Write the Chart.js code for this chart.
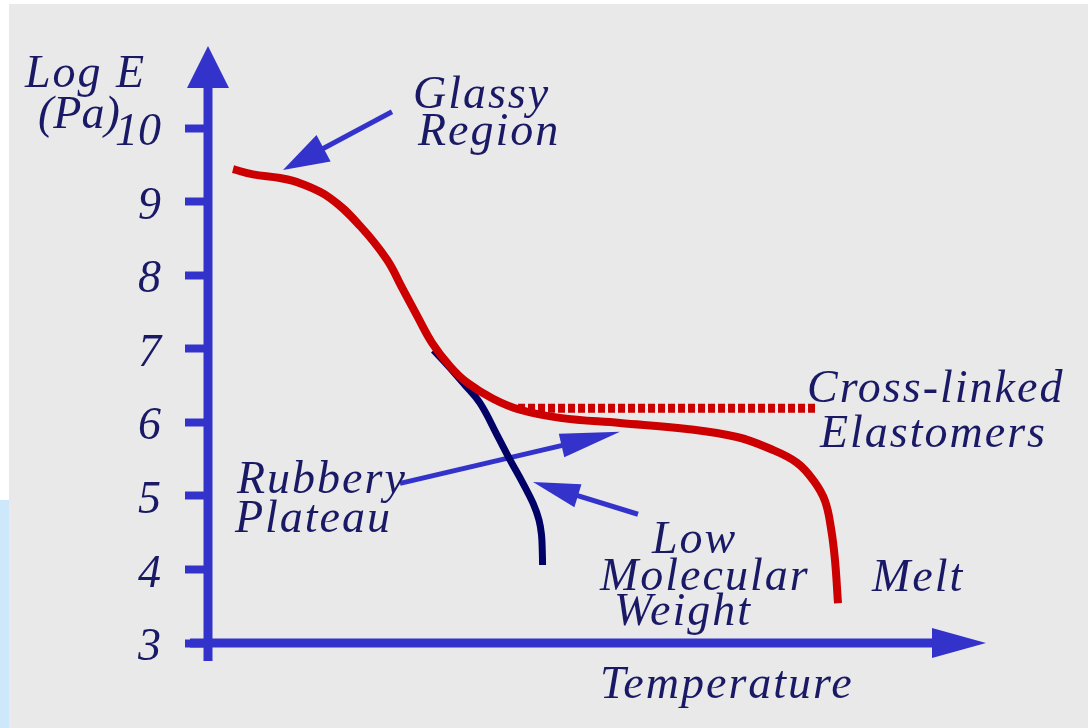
<!DOCTYPE html>
<html>
<head>
<meta charset="utf-8">
<title>Log E vs Temperature</title>
<script src="https://cdn.jsdelivr.net/npm/chart.js@4.4.1/dist/chart.umd.min.js"></script>
<style>
  html, body { margin: 0; padding: 0; background: #ffffff; }
  #chart { display: block; }
</style>
</head>
<body>
<canvas id="chart" width="1088" height="728"></canvas>
<script>
'use strict';

// y axis ticks (log modulus, Pa)
var logETicks = [3, 4, 5, 6, 7, 8, 9, 10];

// typical amorphous polymer: glassy -> transition -> rubbery plateau -> melt
var mainTemp = [3.22, 5.79, 9.27, 11.84, 15.70, 19.56, 23.04, 24.97, 26.90, 28.83, 31.15, 33.33,
                36.68, 40.15, 45.30, 53.02, 61.65, 68.08, 72.33, 75.80, 77.99, 79.41, 80.18, 80.69, 81.08];
var mainLogE = [9.44, 9.37, 9.32, 9.25, 9.05, 8.67, 8.21, 7.83, 7.45, 7.08, 6.76, 6.54,
                6.32, 6.17, 6.06, 5.99, 5.91, 5.80, 5.64, 5.45, 5.20, 4.93, 4.56, 4.13, 3.54];

// low molecular weight branch
var lowMwTemp = [29.03, 30.89, 32.95, 35.01, 37.19, 38.87, 40.54, 41.83, 42.60, 42.92, 43.02, 43.06];
var lowMwLogE = [6.98, 6.77, 6.52, 6.26, 5.83, 5.49, 5.17, 4.90, 4.67, 4.47, 4.26, 4.06];

// cross-linked elastomer plateau
var crossTemp = [39.90, 78.38];
var crossLogE = [6.19, 6.19];

var INK = '#191966';
var AXIS_BLUE = '#3333cc';
var SERIF = "'Liberation Serif', 'Times New Roman', serif";
var TEXT_FONT = 'italic 46px ' + SERIF;

// labels placed in data units (temperature, log E), left/baseline anchored
var notes = [
    { text: 'Glassy',       t: 26.38, e: 10.27 },
    { text: 'Region',       t: 27.03, e: 9.77 },
    { text: 'Cross-linked', t: 77.09, e: 6.28 },
    { text: 'Elastomers',   t: 78.76, e: 5.66 },
    { text: 'Rubbery',      t: 3.73,  e: 5.04 },
    { text: 'Plateau',      t: 3.47,  e: 4.51 },
    { text: 'Low',          t: 57.14, e: 4.22 },
    { text: 'Molecular',    t: 50.45, e: 3.72 },
    { text: 'Weight',       t: 52.25, e: 3.24 },
    { text: 'Melt',         t: 85.45, e: 3.71 }
];

// pointer arrows, tail -> tip, in data units
var pointers = [
    { from: [23.68, 10.22], to: [9.65, 9.43],  head: 46, half: 15 },
    { from: [24.71, 5.17],  to: [53.02, 5.87], head: 60, half: 12 },
    { from: [55.34, 4.75],  to: [41.83, 5.19], head: 47, half: 12 }
];

function toPoints(xs, ys) {
    return xs.map(function(x, i) { return { x: x, y: ys[i] }; });
}

function drawArrow(ctx, x1, y1, x2, y2, width, headLen, headHalf) {
    var dx = x2 - x1, dy = y2 - y1;
    var len = Math.sqrt(dx * dx + dy * dy);
    var ux = dx / len, uy = dy / len;
    var bx = x2 - ux * headLen, by = y2 - uy * headLen;
    ctx.strokeStyle = AXIS_BLUE;
    ctx.fillStyle = AXIS_BLUE;
    ctx.lineWidth = width;
    ctx.lineCap = 'butt';
    ctx.beginPath();
    ctx.moveTo(x1, y1);
    ctx.lineTo(bx + ux * 2, by + uy * 2);
    ctx.stroke();
    ctx.beginPath();
    ctx.moveTo(x2, y2);
    ctx.lineTo(bx - uy * headHalf, by + ux * headHalf);
    ctx.lineTo(bx + uy * headHalf, by - ux * headHalf);
    ctx.closePath();
    ctx.fill();
}

var backdrop = {
    id: 'backdrop',
    beforeDraw: function(chart) {
        var ctx = chart.ctx;
        ctx.save();
        ctx.fillStyle = '#ffffff';
        ctx.fillRect(0, 0, chart.width, chart.height);
        ctx.fillStyle = '#e9e9e9';
        ctx.fillRect(9, 4, chart.width - 9, chart.height - 4);
        ctx.fillStyle = '#cde8fa';
        ctx.fillRect(0, 500, 9, chart.height - 500);
        ctx.restore();
    }
};

var axesAndPointers = {
    id: 'axesAndPointers',
    beforeDatasetsDraw: function(chart) {
        var ctx = chart.ctx;
        var xs = chart.scales.x, ys = chart.scales.y;
        var area = chart.chartArea;
        var x0 = area.left;
        var yBase = ys.getPixelForValue(3);
        ctx.save();
        // vertical axis with arrow
        drawArrow(ctx, x0, yBase + 18, x0, 46, 9, 42, 21);
        // horizontal axis with arrow
        drawArrow(ctx, x0 - 18, yBase, area.right + 1, yBase, 9, 54, 15);
        pointers.forEach(function(p) {
            drawArrow(ctx,
                xs.getPixelForValue(p.from[0]), ys.getPixelForValue(p.from[1]),
                xs.getPixelForValue(p.to[0]), ys.getPixelForValue(p.to[1]),
                5, p.head, p.half);
        });
        ctx.restore();
    },
    afterDraw: function(chart) {
        var ctx = chart.ctx;
        var xs = chart.scales.x, ys = chart.scales.y;
        ctx.save();
        ctx.font = TEXT_FONT;
        ctx.fillStyle = INK;
        ctx.textAlign = 'left';
        ctx.textBaseline = 'alphabetic';
        ctx.letterSpacing = '2px';
        notes.forEach(function(n) {
            ctx.fillText(n.text, xs.getPixelForValue(n.t), ys.getPixelForValue(n.e));
        });
        // axis titles
        ctx.fillText('Log E', 25, 87);
        ctx.fillText('Temperature', 600, 698);
        ctx.letterSpacing = '0px';
        ctx.fillText('(Pa)', 38, 128);
        ctx.restore();
    }
};

var ctx = document.getElementById('chart').getContext('2d');
new Chart(ctx, {
    type: 'scatter',
    data: {
        datasets: [
            {
                label: 'Amorphous polymer',
                data: toPoints(mainTemp, mainLogE),
                showLine: true,
                borderColor: '#cc0000',
                borderWidth: 8,
                pointRadius: 0,
                tension: 0.4,
                order: 0
            },
            {
                label: 'Low molecular weight',
                data: toPoints(lowMwTemp, lowMwLogE),
                showLine: true,
                borderColor: '#000066',
                borderWidth: 7,
                pointRadius: 0,
                tension: 0.4,
                order: 1
            },
            {
                label: 'Cross-linked elastomers',
                data: toPoints(crossTemp, crossLogE),
                showLine: true,
                borderColor: '#cc0000',
                borderWidth: 9,
                borderDash: [7, 3],
                borderCapStyle: 'butt',
                pointRadius: 0,
                order: 2
            }
        ]
    },
    options: {
        responsive: false,
        animation: false,
        layout: { padding: { left: 58, top: 128, right: 103, bottom: 85 } },
        scales: {
            x: {
                type: 'linear',
                min: 0,
                max: 100,
                display: false
            },
            y: {
                type: 'linear',
                min: 3,
                max: 10,
                afterFit: function(scale) { scale.width = 150; },
                afterBuildTicks: function(scale) {
                    scale.ticks = logETicks.map(function(v) { return { value: v }; });
                },
                border: { display: false },
                grid: {
                    drawOnChartArea: false,
                    drawTicks: true,
                    tickLength: 23,
                    tickWidth: 8,
                    tickColor: AXIS_BLUE
                },
                ticks: {
                    padding: 24,
                    labelOffset: 5,
                    color: INK,
                    font: { family: SERIF, style: 'italic', size: 46 }
                }
            }
        },
        plugins: {
            legend: { display: false },
            tooltip: { enabled: false }
        }
    },
    plugins: [backdrop, axesAndPointers]
});
</script>
</body>
</html>
